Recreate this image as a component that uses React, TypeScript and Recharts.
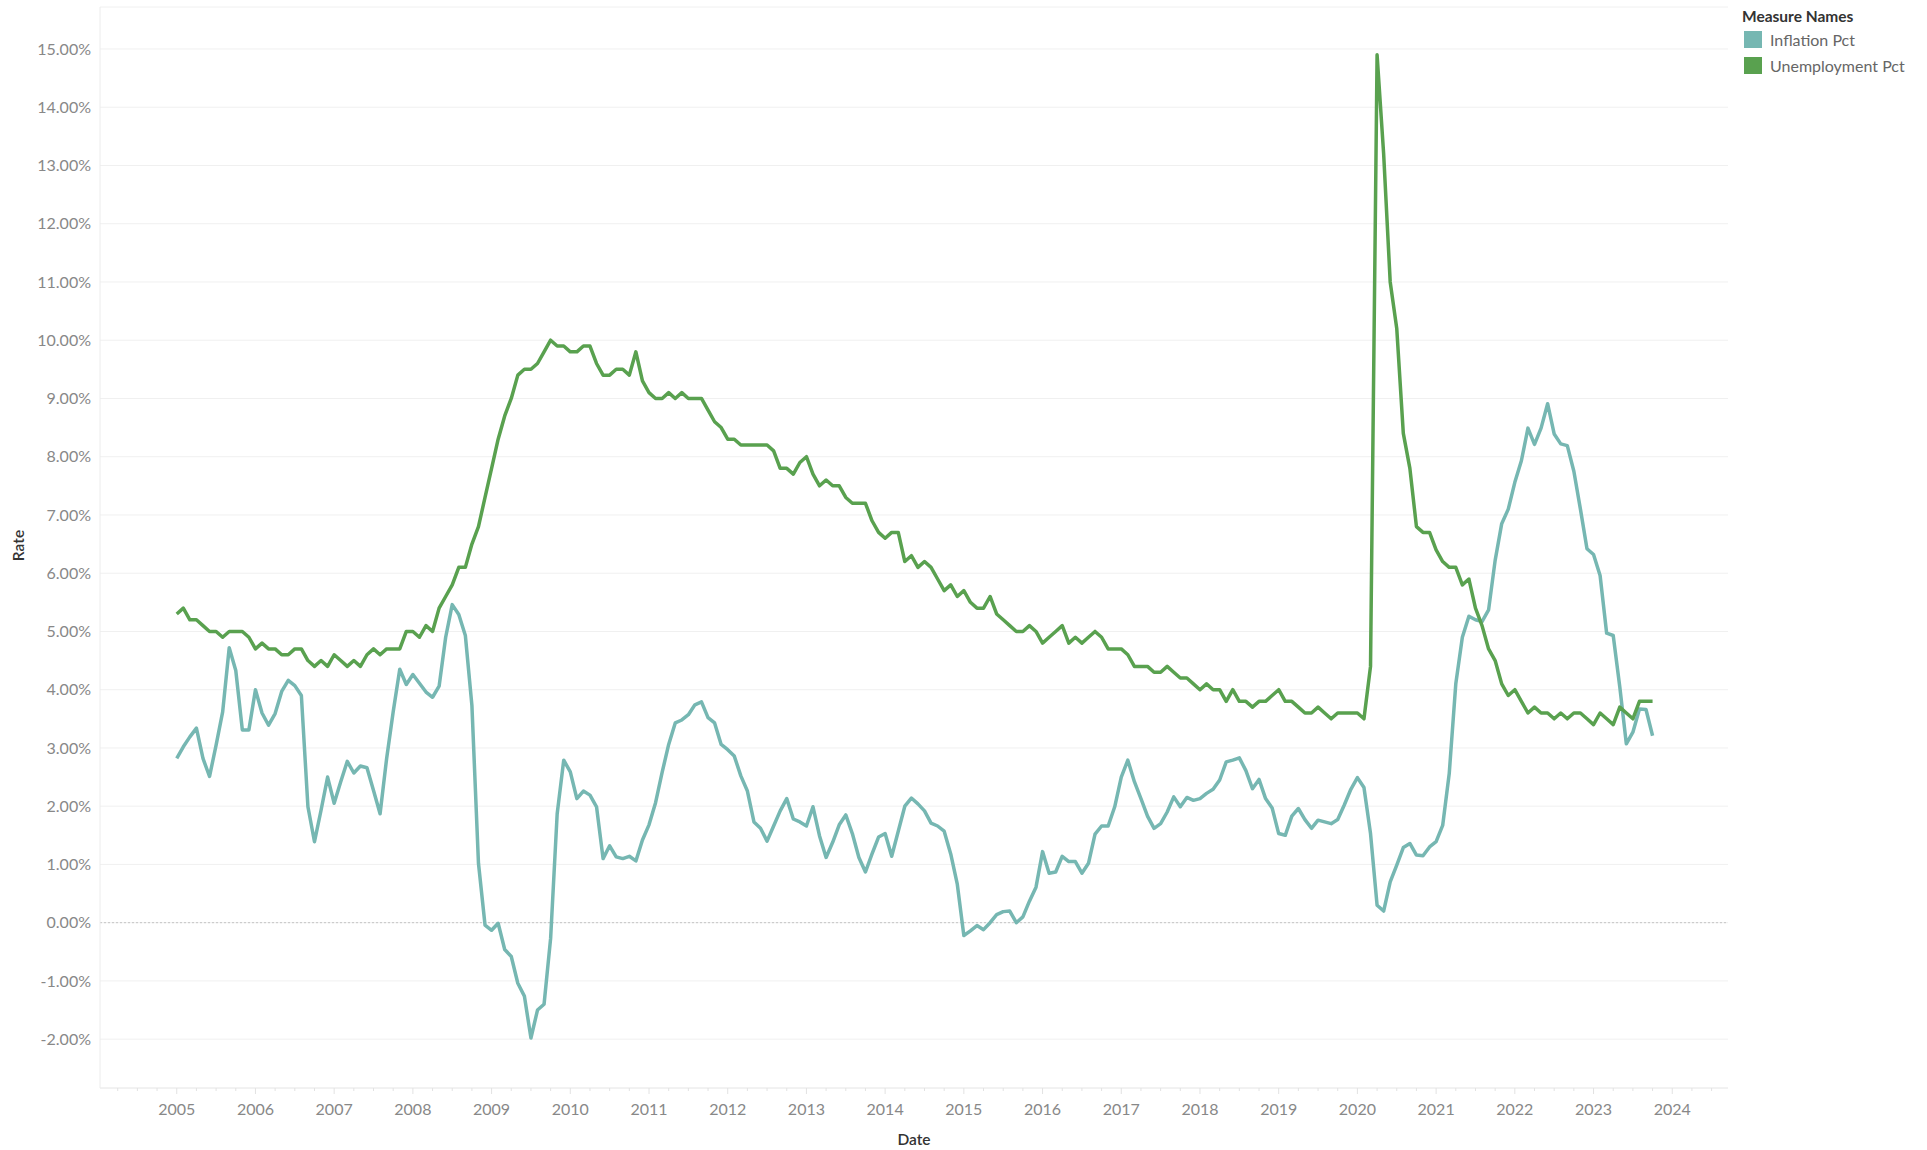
import { LineChart, Line, XAxis, YAxis, CartesianGrid, ReferenceLine } from 'recharts'

// monthly series, first point is Jan 2005
const START_YEAR = 2005

const inflationPct = [
  2.82, 3.02, 3.19, 3.34, 2.82, 2.51, 3.05, 3.62, 4.72, 4.33, 3.31, 3.31, // 2005
  4.0, 3.6, 3.39, 3.59, 3.97, 4.16, 4.07, 3.9, 1.99, 1.39, 1.93, 2.5, // 2006
  2.05, 2.42, 2.77, 2.57, 2.69, 2.66, 2.27, 1.87, 2.82, 3.62, 4.35, 4.09, // 2007
  4.26, 4.11, 3.96, 3.87, 4.06, 4.9, 5.46, 5.29, 4.93, 3.73, 1.02, -0.04, // 2008
  -0.13, -0.01, -0.46, -0.58, -1.04, -1.26, -1.98, -1.5, -1.4, -0.27, 1.87, 2.79, // 2009
  2.59, 2.13, 2.26, 2.19, 1.99, 1.1, 1.32, 1.13, 1.1, 1.14, 1.06, 1.42, // 2010
  1.68, 2.06, 2.58, 3.06, 3.43, 3.48, 3.57, 3.74, 3.79, 3.52, 3.43, 3.06, // 2011
  2.97, 2.86, 2.52, 2.26, 1.73, 1.62, 1.4, 1.66, 1.92, 2.13, 1.78, 1.73, // 2012
  1.66, 1.99, 1.49, 1.12, 1.38, 1.68, 1.85, 1.53, 1.12, 0.87, 1.18, 1.47, // 2013
  1.53, 1.14, 1.57, 2.0, 2.14, 2.04, 1.92, 1.71, 1.66, 1.57, 1.18, 0.66, // 2014
  -0.22, -0.14, -0.05, -0.12, 0.0, 0.14, 0.19, 0.2, 0.0, 0.1, 0.37, 0.61, // 2015
  1.22, 0.85, 0.87, 1.14, 1.05, 1.05, 0.85, 1.02, 1.52, 1.66, 1.66, 1.99, // 2016
  2.5, 2.79, 2.42, 2.13, 1.83, 1.62, 1.7, 1.9, 2.16, 1.99, 2.15, 2.1, // 2017
  2.13, 2.22, 2.29, 2.45, 2.76, 2.79, 2.83, 2.61, 2.3, 2.46, 2.13, 1.97, // 2018
  1.53, 1.5, 1.83, 1.96, 1.77, 1.62, 1.76, 1.73, 1.7, 1.77, 2.02, 2.29, // 2019
  2.49, 2.32, 1.53, 0.3, 0.2, 0.7, 0.99, 1.29, 1.36, 1.16, 1.15, 1.3, // 2020
  1.39, 1.67, 2.56, 4.1, 4.9, 5.26, 5.2, 5.17, 5.37, 6.22, 6.85, 7.1, // 2021
  7.56, 7.93, 8.49, 8.21, 8.49, 8.91, 8.39, 8.22, 8.19, 7.75, 7.1, 6.42, // 2022
  6.32, 5.96, 4.97, 4.93, 4.05, 3.07, 3.27, 3.67, 3.66, 3.21, // 2023
]

const unemploymentPct = [
  5.3, 5.4, 5.2, 5.2, 5.1, 5.0, 5.0, 4.9, 5.0, 5.0, 5.0, 4.9, // 2005
  4.7, 4.8, 4.7, 4.7, 4.6, 4.6, 4.7, 4.7, 4.5, 4.4, 4.5, 4.4, // 2006
  4.6, 4.5, 4.4, 4.5, 4.4, 4.6, 4.7, 4.6, 4.7, 4.7, 4.7, 5.0, // 2007
  5.0, 4.9, 5.1, 5.0, 5.4, 5.6, 5.8, 6.1, 6.1, 6.5, 6.8, 7.3, // 2008
  7.8, 8.3, 8.7, 9.0, 9.4, 9.5, 9.5, 9.6, 9.8, 10.0, 9.9, 9.9, // 2009
  9.8, 9.8, 9.9, 9.9, 9.6, 9.4, 9.4, 9.5, 9.5, 9.4, 9.8, 9.3, // 2010
  9.1, 9.0, 9.0, 9.1, 9.0, 9.1, 9.0, 9.0, 9.0, 8.8, 8.6, 8.5, // 2011
  8.3, 8.3, 8.2, 8.2, 8.2, 8.2, 8.2, 8.1, 7.8, 7.8, 7.7, 7.9, // 2012
  8.0, 7.7, 7.5, 7.6, 7.5, 7.5, 7.3, 7.2, 7.2, 7.2, 6.9, 6.7, // 2013
  6.6, 6.7, 6.7, 6.2, 6.3, 6.1, 6.2, 6.1, 5.9, 5.7, 5.8, 5.6, // 2014
  5.7, 5.5, 5.4, 5.4, 5.6, 5.3, 5.2, 5.1, 5.0, 5.0, 5.1, 5.0, // 2015
  4.8, 4.9, 5.0, 5.1, 4.8, 4.9, 4.8, 4.9, 5.0, 4.9, 4.7, 4.7, // 2016
  4.7, 4.6, 4.4, 4.4, 4.4, 4.3, 4.3, 4.4, 4.3, 4.2, 4.2, 4.1, // 2017
  4.0, 4.1, 4.0, 4.0, 3.8, 4.0, 3.8, 3.8, 3.7, 3.8, 3.8, 3.9, // 2018
  4.0, 3.8, 3.8, 3.7, 3.6, 3.6, 3.7, 3.6, 3.5, 3.6, 3.6, 3.6, // 2019
  3.6, 3.5, 4.4, 14.9, 13.2, 11.0, 10.2, 8.4, 7.8, 6.8, 6.7, 6.7, // 2020
  6.4, 6.2, 6.1, 6.1, 5.8, 5.9, 5.4, 5.1, 4.7, 4.5, 4.1, 3.9, // 2021
  4.0, 3.8, 3.6, 3.7, 3.6, 3.6, 3.5, 3.6, 3.5, 3.6, 3.6, 3.5, // 2022
  3.4, 3.6, 3.5, 3.4, 3.7, 3.6, 3.5, 3.8, 3.8, 3.8, // 2023
]

const yearLabels = [
  2005, 2006, 2007, 2008, 2009, 2010, 2011, 2012, 2013, 2014,
  2015, 2016, 2017, 2018, 2019, 2020, 2021, 2022, 2023, 2024,
]
const rateTicks = [-2, -1, 0, 1, 2, 3, 4, 5, 6, 7, 8, 9, 10, 11, 12, 13, 14, 15]

const legendItems = [
  { name: 'Inflation Pct', color: '#76b7b2' },
  { name: 'Unemployment Pct', color: '#59a14f' },
]

const FONT = 'Lato, "Open Sans", sans-serif'

// x is months since Jan 2005; quarter ticks, labels only on years
const quarterTicks: number[] = []
for (let m = -9; m <= 234; m += 3) quarterTicks.push(m)

const chartData = inflationPct.map((v, i) => ({
  month: i,
  inflation: v,
  unemployment: unemploymentPct[i],
}))

function DateTick({ x, y, payload }: any) {
  const m = payload.value
  const yearIdx = m / 12
  const isYear = m % 12 === 0 && yearIdx >= 0 && yearIdx < yearLabels.length
  return (
    <g>
      <line x1={x} x2={x} y1={y} y2={y + (isYear ? 6 : 3)} stroke="#e2e2e2" />
      {isYear && (
        <text x={x} y={y + 27} textAnchor="middle" fill="#888" fontSize={16} fontFamily={FONT}>
          {yearLabels[yearIdx]}
        </text>
      )}
    </g>
  )
}

export default function App() {
  return (
    <div style={{ position: 'absolute', left: 0, top: 0, width: 1927, height: 1150, background: '#fff' }}>
      <LineChart
        width={1927}
        height={1150}
        data={chartData}
        margin={{ top: 7, right: 199, bottom: 2, left: 10 }}
      >
        <CartesianGrid vertical={false} stroke="#f0f0f0" />
        <XAxis
          type="number"
          dataKey="month"
          domain={[-11.7, 236.5]}
          ticks={quarterTicks}
          interval={0}
          height={60}
          tickSize={0}
          tickMargin={0}
          tickLine={false}
          axisLine={{ stroke: '#ececec' }}
          tick={<DateTick />}
          label={({ viewBox }: any) => (
            <text
              x={viewBox.x + viewBox.width / 2}
              y={1145}
              textAnchor="middle"
              fill="#333"
              fontSize={15.5}
              fontWeight={600}
              fontFamily={FONT}
            >
              Date
            </text>
          )}
        />
        <YAxis
          type="number"
          domain={[-2.838, 15.72]}
          ticks={rateTicks}
          interval={0}
          width={90}
          tickSize={6}
          tickMargin={3}
          tickLine={false}
          axisLine={{ stroke: '#ececec' }}
          tick={{ fill: '#888', fontSize: 16, fontFamily: FONT }}
          tickFormatter={(v: number) => v.toFixed(2) + '%'}
          label={({ viewBox }: any) => (
            <text
              transform={`translate(24, ${viewBox.y + viewBox.height / 2 - 2}) rotate(-90)`}
              textAnchor="middle"
              fill="#333"
              fontSize={15.5}
              fontWeight={600}
              fontFamily={FONT}
            >
              Rate
            </text>
          )}
        />
        <ReferenceLine y={0} stroke="#c4c4c4" strokeDasharray="2 2" />
        <Line
          type="linear"
          dataKey="inflation"
          name="Inflation Pct"
          stroke="#76b7b2"
          strokeWidth={3.5}
          strokeLinejoin="round"
          dot={false}
          isAnimationActive={false}
        />
        <Line
          type="linear"
          dataKey="unemployment"
          name="Unemployment Pct"
          stroke="#59a14f"
          strokeWidth={3.5}
          strokeLinejoin="round"
          dot={false}
          isAnimationActive={false}
        />
      </LineChart>

      <div style={{ position: 'absolute', left: 1742, top: 6, fontFamily: FONT }}>
        <div style={{ fontSize: 15.5, fontWeight: 700, color: '#333', lineHeight: '21px' }}>Measure Names</div>
        {legendItems.map((item) => (
          <div key={item.name} style={{ display: 'flex', alignItems: 'center', height: 25.5 }}>
            <span style={{ width: 18, height: 17, background: item.color, marginLeft: 2, marginRight: 8 }} />
            <span style={{ fontSize: 16, color: '#666' }}>{item.name}</span>
          </div>
        ))}
      </div>
    </div>
  )
}
